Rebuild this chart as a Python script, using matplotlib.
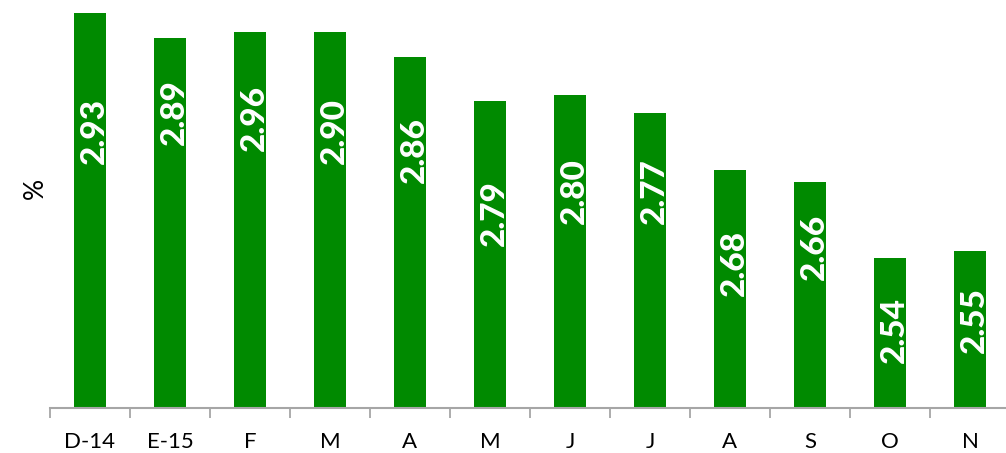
import matplotlib
matplotlib.use("Agg")
import matplotlib.pyplot as plt
import numpy as np

# data
months = ["D-14", "E-15", "F", "M", "A", "M", "J", "J", "A", "S", "O", "N"]
bar_values = [2.93, 2.89, 2.90, 2.90, 2.86, 2.79, 2.80, 2.77, 2.68, 2.66, 2.54, 2.55]
value_labels = ["2.93", "2.89", "2.96", "2.90", "2.86", "2.79",
                "2.80", "2.77", "2.68", "2.66", "2.54", "2.55"]
# vertical centre of each data label (in axis units, placed by hand in the source)
label_centres = [2.742, 2.772, 2.763, 2.742, 2.711, 2.611,
                 2.646, 2.646, 2.531, 2.557, 2.424, 2.440]

GREEN = "#008A00"
GREY = "#A6A6A6"
FONT = ["Lato", "DejaVu Sans"]

fig = plt.figure(figsize=(10.06, 4.53), dpi=100)
ax = fig.add_axes([50 / 1006, 45 / 453, 960 / 1006, 408 / 453])

x = np.arange(len(months))
ax.bar(x, bar_values, width=0.4, color=GREEN, zorder=2)

for xi, lab, yc in zip(x, value_labels, label_centres):
    ax.text(xi + 0.06, yc, lab, rotation=90, ha="center", va="center",
            color="white", fontsize=24, fontweight=900, family=FONT, zorder=3)

ax.set_xlim(-0.5, len(months) - 0.5)
ax.set_ylim(2.30, 2.951)

ax.set_xticks(x)
ax.set_xticklabels(months, fontsize=16, family=FONT, color="black")
ax.tick_params(axis="x", which="major", length=0, pad=17)
ax.set_xticks(np.arange(-0.5, len(months), 1.0), minor=True)
ax.tick_params(axis="x", which="minor", length=7, width=1.3, color=GREY, direction="out")

ax.set_yticks([])
for side in ("left", "right", "top"):
    ax.spines[side].set_visible(False)
ax.spines["bottom"].set_color(GREY)
ax.spines["bottom"].set_linewidth(1.5)

fig.text(35 / 1006, 1 - 188 / 453, "%", rotation=90, ha="center", va="center",
         fontsize=19, family=FONT, color="black")

fig.savefig("out.png", dpi=100)
